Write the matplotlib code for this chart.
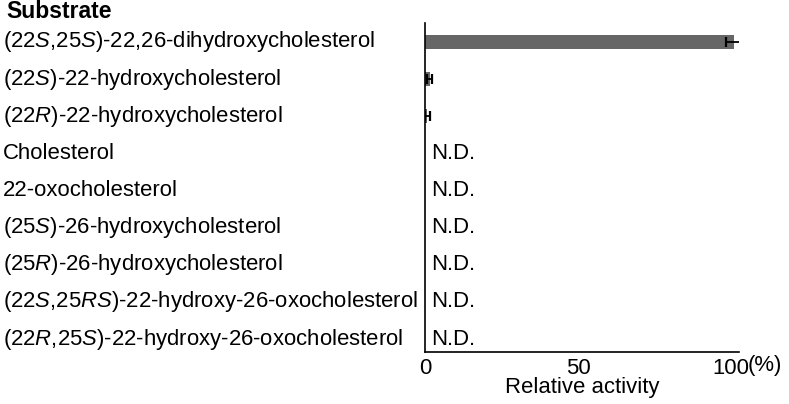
import matplotlib
matplotlib.use("Agg")
import matplotlib.pyplot as plt
from matplotlib.transforms import blended_transform_factory

plt.rcParams['font.family'] = ['Liberation Sans', 'DejaVu Sans']
plt.rcParams['mathtext.fontset'] = 'custom'
plt.rcParams['mathtext.rm'] = 'Liberation Sans'
plt.rcParams['mathtext.it'] = 'Liberation Sans:italic'

substrates = [
    r"(22$\it{S}$,25$\it{S}$)-22,26-dihydroxycholesterol",
    r"(22$\it{S}$)-22-hydroxycholesterol",
    r"(22$\it{R}$)-22-hydroxycholesterol",
    "Cholesterol",
    "22-oxocholesterol",
    r"(25$\it{S}$)-26-hydroxycholesterol",
    r"(25$\it{R}$)-26-hydroxycholesterol",
    r"(22$\it{S}$,25$\it{RS}$)-22-hydroxy-26-oxocholesterol",
    r"(22$\it{R}$,25$\it{S}$)-22-hydroxy-26-oxocholesterol",
]
activity = [101.0, 1.6, 0.7, None, None, None, None, None, None]
errors = [2.5, 0.8, 0.8, None, None, None, None, None, None]
xticks = [0, 50, 100]

fig = plt.figure(figsize=(7.89, 4.04), dpi=100)
ax = fig.add_axes([425/789, 1-352/404, (739-425)/789, (352-23)/404])

fs = 15.9
for i, (name, v, e) in enumerate(zip(substrates, activity, errors)):
    if v is not None:
        ax.barh(i, v, height=0.38, color='#666666', zorder=2)
        ax.errorbar(v, i, xerr=e, fmt='none', ecolor='black', elinewidth=1.3,
                    capsize=3.8, capthick=1.6, zorder=3)
    else:
        ax.text(2.0, i, "N.D.", fontsize=fs, va='center', ha='left')

trans = blended_transform_factory(fig.transFigure, ax.transData)
for i, name in enumerate(substrates):
    ax.text(3/789, i, name, transform=trans, fontsize=fs, va='center', ha='left')

fig.text(6/789, 1-12/404, "Substrate", fontsize=16.5, fontweight='bold', va='center', ha='left')

ax.set_xlim(0, 102.6)
ax.set_ylim(8.35, -0.51)
ax.set_xticks(xticks)
ax.set_xticklabels([str(t) for t in xticks], fontsize=fs)
ax.tick_params(axis='x', length=0, pad=4)
ax.set_yticks([])
ax.spines['top'].set_visible(False)
ax.spines['right'].set_visible(False)
ax.spines['left'].set_linewidth(1.2)
ax.spines['bottom'].set_linewidth(1.2)
ax.set_xlabel("Relative activity", fontsize=fs, labelpad=-1)
fig.text(748/789, 1-365/404, "(%)", fontsize=fs, va='center', ha='left')

fig.savefig("out.png", dpi=100)
